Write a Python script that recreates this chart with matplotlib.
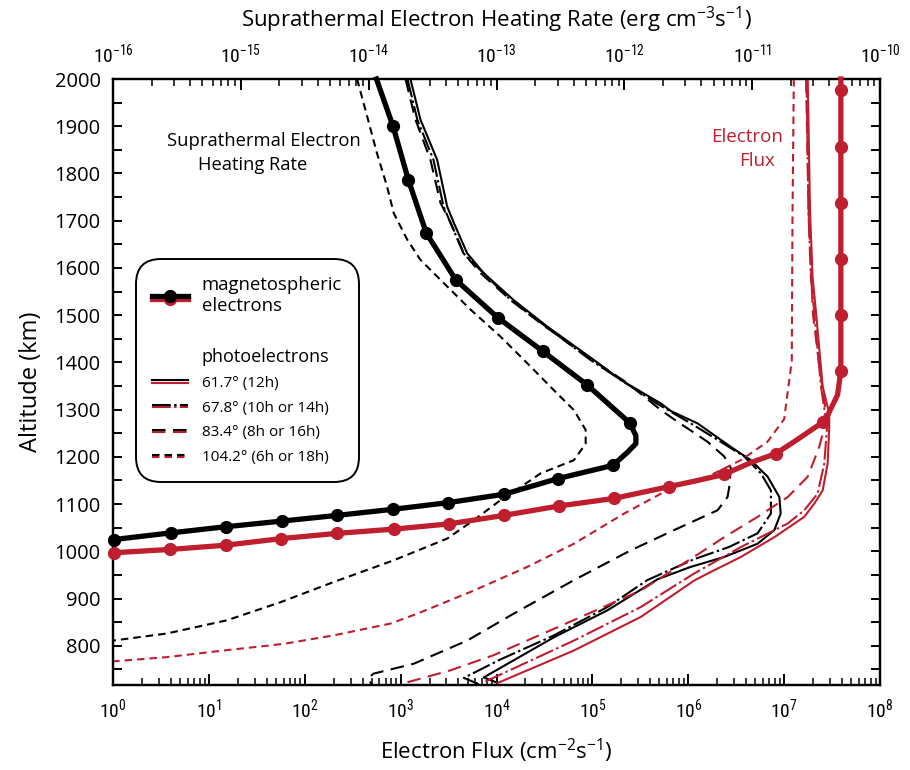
import matplotlib
matplotlib.use("Agg")
import matplotlib.pyplot as plt
from matplotlib import font_manager
from matplotlib.lines import Line2D
from matplotlib.legend_handler import HandlerBase
from matplotlib.ticker import LogLocator, MultipleLocator, NullFormatter

# ---------------- data ----------------
# Magnetospheric electrons: suprathermal electron heating rate (erg cm^-3 s^-1)
mag_heat_alt = [2000, 1900, 1787, 1674, 1575, 1495, 1424, 1352, 1272, 1245, 1228, 1210,
                1182, 1154, 1121, 1103, 1089, 1076, 1064, 1052, 1039, 1025]
mag_heat = [1.15e-14, 1.55e-14, 2.04e-14, 2.82e-14, 4.79e-14, 1.02e-13, 2.29e-13, 5.13e-13,
            1.10e-12, 1.23e-12, 1.23e-12, 1.06e-12, 8.13e-13, 3.02e-13, 1.15e-13, 4.17e-14,
            1.55e-14, 5.62e-15, 2.09e-15, 7.59e-16, 2.82e-16, 1.02e-16]
mag_heat_dots = [1, 2, 3, 4, 5, 6, 7, 8, 12, 13, 14, 15, 16, 17, 18, 19, 20, 21]

# Magnetospheric electrons: electron flux (cm^-2 s^-1)
mag_flux_alt = [2000, 1976, 1855, 1737, 1619, 1500, 1382, 1331, 1288, 1273, 1237, 1207, 1188,
                1163, 1150, 1137, 1112, 1096, 1076, 1058, 1047, 1038, 1027, 1013, 1004, 997]
mag_flux = [3.9e7, 3.9e7, 3.9e7, 3.9e7, 3.9e7, 3.9e7, 3.9e7, 3.6e7, 2.84e7, 2.51e7, 1.38e7,
            8.2e6, 4.5e6, 2.37e6, 1.25e6, 6.3e5, 1.68e5, 4.48e4, 1.19e4, 3.18e3, 846, 217,
            56.9, 15.0, 3.94, 1.02]
mag_flux_dots = [1, 2, 3, 4, 5, 6, 9, 11, 13, 15, 16, 17, 18, 19, 20, 21, 22, 23, 24, 25]

# Photoelectron heating rates, by solar zenith angle
pe617_heat_alt = [2000, 1914, 1829, 1730, 1695, 1631, 1589, 1532, 1476, 1405, 1363, 1313, 1297,
                  1271, 1221, 1193, 1158, 1115, 1080, 1045, 1016, 988, 967, 941, 910, 875, 818,
                  733, 722]
pe617_heat = [2.12e-14, 2.54e-14, 3.43e-14, 4.11e-14, 4.64e-14, 5.89e-14, 7.94e-14, 1.36e-13,
              2.49e-13, 5.78e-13, 9.35e-13, 1.93e-12, 2.31e-12, 3.73e-12, 6.81e-12, 9.75e-12,
              1.32e-11, 1.63e-11, 1.67e-11, 1.49e-11, 1.10e-11, 6.03e-12, 3.30e-12, 1.82e-12,
              1.19e-12, 7.36e-13, 2.81e-13, 7.94e-14, 1.01e-13]

pe678_heat_alt = [2000, 1914, 1829, 1730, 1631, 1532, 1405, 1313, 1271, 1236, 1201, 1165, 1129,
                  1080, 1038, 1009, 983, 939, 882, 822, 771, 732, 719]
pe678_heat = [2.01e-14, 2.40e-14, 3.21e-14, 3.85e-14, 5.51e-14, 1.29e-13, 5.44e-13, 1.79e-12,
              3.30e-12, 5.36e-12, 8.65e-12, 1.17e-11, 1.40e-11, 1.40e-11, 1.10e-11, 6.56e-12,
              3.49e-12, 1.51e-12, 7.36e-13, 2.81e-13, 1.07e-13, 5.55e-14, 7.23e-14]

pe834_heat_alt = [2000, 1914, 1829, 1738, 1696, 1631, 1589, 1532, 1483, 1412, 1356, 1299, 1280,
                  1232, 1201, 1176, 1136, 1115, 1087, 1045, 1002, 939, 868, 811, 762, 741, 731,
                  719]
pe834_heat = [1.94e-14, 2.32e-14, 3.04e-14, 3.64e-14, 4.37e-14, 5.55e-14, 7.50e-14, 1.29e-13,
              2.21e-13, 5.13e-13, 1.06e-12, 1.93e-12, 2.43e-12, 4.47e-12, 6.03e-12, 6.81e-12,
              6.61e-12, 6.41e-12, 5.36e-12, 2.45e-12, 1.12e-12, 4.03e-13, 1.36e-13, 5.89e-14,
              2.25e-14, 1.09e-14, 9.9e-15, 1.05e-14]

pe1042_heat_alt = [2000, 1935, 1843, 1773, 1716, 1660, 1617, 1575, 1512, 1455, 1391, 1341, 1299,
                   1257, 1228, 1193, 1165, 1136, 1108, 1066, 1027, 981, 935, 892, 854, 826, 811]
pe1042_heat = [8.11e-15, 9.42e-15, 1.16e-14, 1.39e-14, 1.57e-14, 2.00e-14, 2.54e-14, 3.64e-14,
               6.25e-14, 1.07e-13, 1.85e-13, 2.81e-13, 4.03e-13, 4.98e-13, 4.98e-13, 4.03e-13,
               2.21e-13, 1.54e-13, 1.07e-13, 6.64e-14, 4.11e-14, 1.57e-14, 5.32e-15, 2.03e-15,
               7.79e-16, 2.64e-16, 1.0e-16]

# Photoelectron fluxes, by solar zenith angle
pe617_flux_alt = [2000, 1720, 1579, 1509, 1349, 1292, 1263, 1186, 1129, 1101, 1073, 1030, 988,
                  953, 938, 861, 790, 721]
pe617_flux = [1.76e7, 1.86e7, 1.98e7, 2.14e7, 2.52e7, 2.95e7, 2.95e7, 2.84e7, 2.52e7, 2.06e7,
              1.62e7, 7.9e6, 3.53e6, 1.59e6, 1.15e6, 3.19e5, 6.4e4, 1.02e4]

pe678_flux_alt = [2000, 1720, 1579, 1509, 1349, 1263, 1186, 1122, 1087, 1059, 1009, 953, 882,
                  811, 723]
pe678_flux = [1.71e7, 1.79e7, 1.90e7, 2.05e7, 2.42e7, 2.80e7, 2.62e7, 2.23e7, 1.62e7, 1.09e7,
              3.53e6, 1.15e6, 3.19e5, 6.4e4, 7.4e3]

pe834_flux_alt = [2000, 1700, 1500, 1400, 1310, 1260, 1221, 1158, 1115, 1073, 1030, 995, 917,
                  839, 780, 748, 720]
pe834_flux = [1.69e7, 1.81e7, 2.0e7, 2.3e7, 2.66e7, 2.60e7, 2.32e7, 1.76e7, 1.09e7, 5.28e6,
              2.37e6, 1.29e6, 3.19e5, 4.3e4, 9.3e3, 3.3e3, 1.05e3]

pe1042_flux_alt = [2000, 1700, 1403, 1307, 1280, 1232, 1193, 1158, 1137, 1080, 1016, 967, 917,
                   868, 847, 822, 804, 790, 776, 767]
pe1042_flux = [1.26e7, 1.22e7, 1.20e7, 1.04e7, 1.0e7, 6.7e6, 3.53e6, 1.59e6, 7.1e5, 2.14e5,
               6.4e4, 2.09e4, 5.8e3, 1.49e3, 782, 200, 60, 14.2, 3.64, 1.0]

flux_decades = [1e0, 1e1, 1e2, 1e3, 1e4, 1e5, 1e6, 1e7, 1e8]
heat_decades = [1e-16, 1e-15, 1e-14, 1e-13, 1e-12, 1e-11, 1e-10]

legend_labels = ["magnetospheric\nelectrons", " ", "photoelectrons",
                 "61.7\u00b0 (12h)", "67.8\u00b0 (10h or 14h)",
                 "83.4\u00b0 (8h or 16h)", "104.2\u00b0 (6h or 18h)"]

# ---------------- fonts ----------------
_installed = {f.name for f in font_manager.fontManager.ttflist}


def first_font(names):
    for n in names:
        if n in _installed:
            return n
    return "DejaVu Sans"


MAIN_FONT = first_font(["Open Sans", "Lato", "Noto Sans"])
NARROW_FONT = first_font(["Liberation Sans Narrow", "Roboto Condensed", MAIN_FONT])
plt.rcParams["font.family"] = [MAIN_FONT, "DejaVu Sans"]
plt.rcParams["mathtext.default"] = "regular"

RED = "#BE1E2D"
BLACK = "#000000"

# line styles (dash patterns in units of line width)
THIN = 1.5
SOLID = dict(linestyle="-")
DASHDOT = dict(dashes=(9, 1.6, 1.2, 1.6))
LONGDASH = dict(dashes=(6.5, 3.6))
SHORTDASH = dict(dashes=(3.6, 2.4))

fig = plt.figure(figsize=(9.1, 7.7), dpi=100)
ax = fig.add_axes([0.1242, 0.1104, 0.8429, 0.787])
axh = ax.twiny()
ax.set_zorder(axh.get_zorder() + 1)
ax.patch.set_visible(False)

# ---------------- heating rates (top axis) ----------------
h617, = axh.plot(pe617_heat, pe617_heat_alt, color=BLACK, lw=THIN, **SOLID)
h678, = axh.plot(pe678_heat, pe678_heat_alt, color=BLACK, lw=THIN, **DASHDOT)
h834, = axh.plot(pe834_heat, pe834_heat_alt, color=BLACK, lw=THIN, **LONGDASH)
h1042, = axh.plot(pe1042_heat, pe1042_heat_alt, color=BLACK, lw=THIN, **SHORTDASH)
hmag, = axh.plot(mag_heat, mag_heat_alt, color=BLACK, lw=3.8, marker="o", ms=8.5,
                 markevery=mag_heat_dots, solid_joinstyle="round", clip_on=False, zorder=4)

# ---------------- electron fluxes (bottom axis) ----------------
f617, = ax.plot(pe617_flux, pe617_flux_alt, color=RED, lw=THIN, **SOLID)
f678, = ax.plot(pe678_flux, pe678_flux_alt, color=RED, lw=THIN, **DASHDOT)
f834, = ax.plot(pe834_flux, pe834_flux_alt, color=RED, lw=THIN, **LONGDASH)
f1042, = ax.plot(pe1042_flux, pe1042_flux_alt, color=RED, lw=THIN, **SHORTDASH)
fmag, = ax.plot(mag_flux, mag_flux_alt, color=RED, lw=3.8, marker="o", ms=8.5,
                markevery=mag_flux_dots, solid_joinstyle="round", clip_on=False, zorder=4)

# ---------------- axes ----------------
ax.set_xscale("log")
axh.set_xscale("log")
ax.set_xticks(flux_decades)
axh.set_xticks(heat_decades)
ax.set_xlim(flux_decades[0], flux_decades[-1])
axh.set_xlim(heat_decades[0], heat_decades[-1])
ax.set_ylim(717, 2000)

for a in (ax, axh):
    a.xaxis.set_minor_locator(LogLocator(base=10, subs=range(2, 10), numticks=200))
    a.xaxis.set_minor_formatter(NullFormatter())
    for s in a.spines.values():
        s.set_linewidth(1.6)

ax.yaxis.set_major_locator(MultipleLocator(100))
ax.yaxis.set_minor_locator(MultipleLocator(50))

ax.tick_params(axis="x", which="both", direction="in", bottom=True, top=False,
               labelsize=14, pad=9, labelfontfamily=NARROW_FONT)
ax.tick_params(axis="x", which="major", length=8, width=1.4)
ax.tick_params(axis="x", which="minor", length=5, width=1.1)
ax.tick_params(axis="y", which="both", direction="in", left=True, right=True,
               length=6.5, width=1.4, labelsize=14.5, pad=9)
axh.tick_params(axis="x", which="both", direction="in", top=True, bottom=False,
                labelsize=14, pad=9, labelfontfamily=NARROW_FONT)
axh.tick_params(axis="x", which="major", length=8, width=1.4)
axh.tick_params(axis="x", which="minor", length=5, width=1.1)

ax.set_xlabel("Electron Flux (cm$^{-2}$s$^{-1}$)", fontsize=16, labelpad=11)
axh.set_xlabel("Suprathermal Electron Heating Rate (erg cm$^{-3}$s$^{-1}$)", fontsize=16,
               labelpad=11)
ax.set_ylabel("Altitude (km)", fontsize=17, labelpad=8)

# curve annotations
ax.text(0.197, 0.898, "Suprathermal Electron", transform=ax.transAxes, ha="center",
        va="center", fontsize=13.2, color=BLACK)
ax.text(0.1825, 0.858, "Heating Rate", transform=ax.transAxes, ha="center",
        va="center", fontsize=13.2, color=BLACK)
ax.text(0.827, 0.904, "Electron", transform=ax.transAxes, ha="center", va="center",
        fontsize=13.5, color=RED)
ax.text(0.840, 0.865, "Flux", transform=ax.transAxes, ha="center", va="center",
        fontsize=13.5, color=RED)


# ---------------- legend ----------------
class PairHandler(HandlerBase):
    """Legend key showing the red flux style just under the black heating-rate style."""

    def __init__(self, offset=1.6, dot=False):
        super().__init__()
        self.offset = offset
        self.dot = dot

    def create_artists(self, legend, orig_handle, xdescent, ydescent, width, height,
                       fontsize, trans):
        red, black = orig_handle
        y = (height - ydescent) / 2.0
        x0, x1 = -xdescent, -xdescent + width
        out = []
        for src, dy in ((red, -self.offset), (black, 0.0)):
            ln = Line2D([x0, x1], [y + dy, y + dy])
            ln.update_from(src)
            ln.set_marker("None")
            ln.set_transform(trans)
            out.append(ln)
        if self.dot:
            for src, dy in ((red, -self.offset), (black, 0.0)):
                mk = Line2D([(x0 + x1) / 2.0], [y + dy], linestyle="None", marker="o",
                            markersize=src.get_markersize(), color=src.get_color())
                mk.set_transform(trans)
                out.append(mk)
        return out


class BlankHandler(HandlerBase):
    """Empty key for text-only legend rows."""

    def create_artists(self, legend, orig_handle, xdescent, ydescent, width, height,
                       fontsize, trans):
        ln = Line2D([], [], linestyle="None")
        ln.set_transform(trans)
        return [ln]


blank1 = Line2D([], [], linestyle="None")
blank2 = Line2D([], [], linestyle="None")
handles = [(fmag, hmag), blank1, blank2, (f617, h617), (f678, h678), (f834, h834),
           (f1042, h1042)]
hmap = {blank1: BlankHandler(), blank2: BlankHandler(),
        (fmag, hmag): PairHandler(offset=2.2, dot=True)}
for pair in handles[3:]:
    hmap[pair] = PairHandler(offset=1.6)

leg = ax.legend(handles, legend_labels, handler_map=hmap, loc="upper left",
                bbox_to_anchor=(0.0296, 0.7025), fontsize=13.3, handlelength=1.95,
                handletextpad=0.72, labelspacing=0.42, borderpad=0.9,
                borderaxespad=0.0, frameon=True, fancybox=True)
frame = leg.get_frame()
frame.set_boxstyle("round", pad=0, rounding_size=1.35)
frame.set_edgecolor(BLACK)
frame.set_linewidth(1.4)
frame.set_alpha(1)
texts = leg.get_texts()
texts[2].set_fontsize(13)
for t in texts[3:]:
    t.set_fontsize(11)

fig.savefig("out.png", dpi=100)
